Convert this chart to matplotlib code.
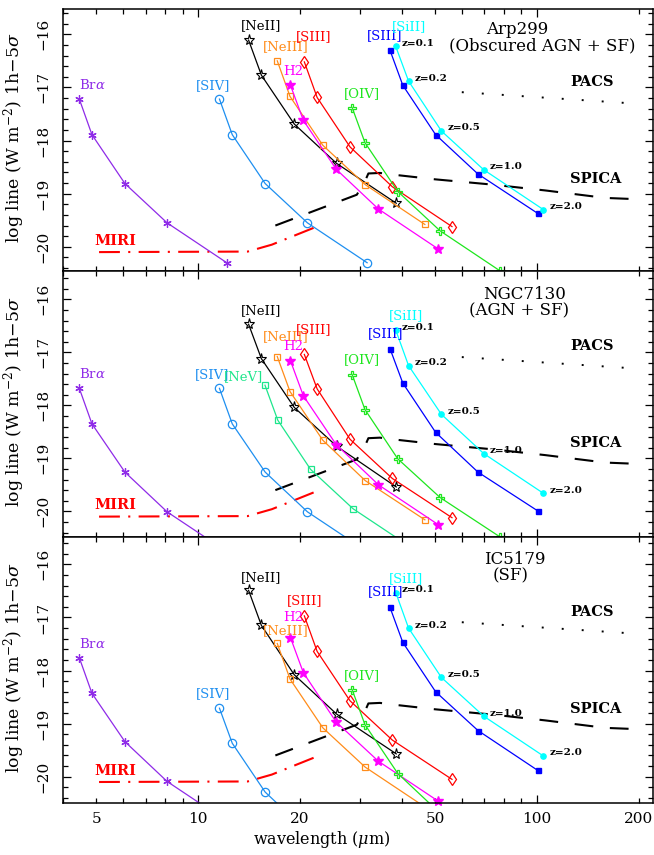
import numpy as np
import matplotlib.pyplot as plt
from matplotlib.ticker import FixedLocator, FuncFormatter, MultipleLocator

plt.rcParams['font.family'] = 'DejaVu Serif'
plt.rcParams['mathtext.fontset'] = 'dejavuserif'

# observed wavelength (micron) of each line at z = 0.1, 0.2, 0.5, 1.0, 2.0
z_labels = ['z=0.1', 'z=0.2', 'z=0.5', 'z=1.0', 'z=2.0']
wl_bra = [4.46, 4.86, 6.08, 8.10, 12.15]
wl_siv = [11.56, 12.61, 15.77, 21.02, 31.53]
wl_neii = [14.09, 15.37, 19.22, 25.62, 38.43]
wl_nev = [15.75, 17.18, 21.48, 28.64, 42.96]
wl_neiii = [17.12, 18.67, 23.34, 31.12, 46.68]
wl_h2 = [18.73, 20.44, 25.55, 34.06, 51.09]
wl_siii18 = [20.58, 22.45, 28.07, 37.42, 56.13]
wl_oiv = [28.48, 31.07, 38.84, 51.78, 77.67]
wl_siii33 = [36.83, 40.18, 50.22, 66.96, 100.44]
wl_siil = [38.30, 41.78, 52.23, 69.64, 104.46]

# log line flux (W m^-2) per galaxy
arp_bra = [-17.22, -17.89, -18.81, -19.55, -20.30]
arp_siv = [-17.22, -17.89, -18.81, -19.55, -20.30]
arp_neii = [-16.11, -16.77, -17.69, -18.43, -19.18]
arp_neiii = [-16.50, -17.17, -18.09, -18.83, -19.58]
arp_h2 = [-16.96, -17.62, -18.54, -19.29, -20.04]
arp_siii18 = [-16.52, -17.19, -18.12, -18.87, -19.62]
arp_oiv = [-17.38, -18.04, -18.96, -19.70, -20.45]
arp_siii33 = [-16.30, -16.96, -17.89, -18.63, -19.37]
arp_siil = [-16.23, -16.88, -17.82, -18.55, -19.30]

ngc_bra = [-17.68, -18.35, -19.26, -20.01, -20.76]
ngc_siv = [-17.68, -18.35, -19.26, -20.01, -20.76]
ngc_nev = [-17.62, -18.28, -19.21, -19.95, -20.70]
ngc_neii = [-16.47, -17.12, -18.04, -18.77, -19.54]
ngc_neiii = [-17.08, -17.74, -18.66, -19.42, -20.16]
ngc_h2 = [-17.16, -17.82, -18.74, -19.50, -20.25]
ngc_siii18 = [-17.04, -17.69, -18.64, -19.38, -20.12]
ngc_oiv = [-17.42, -18.08, -19.01, -19.74, -20.48]
ngc_siii33 = [-16.93, -17.58, -18.51, -19.26, -19.99]
ngc_siil = [-16.58, -17.25, -18.17, -18.91, -19.66]

ic_bra = [-17.76, -18.43, -19.34, -20.09, -20.84]
ic_siv = [-18.71, -19.37, -20.29, -21.04, -21.79]
ic_neii = [-16.49, -17.15, -18.08, -18.82, -19.57]
ic_neiii = [-17.49, -18.16, -19.08, -19.82, -20.57]
ic_h2 = [-17.38, -18.04, -18.97, -19.71, -20.46]
ic_siii18 = [-16.97, -17.64, -18.57, -19.31, -20.05]
ic_oiv = [-18.36, -19.02, -19.94, -20.69, -21.44]
ic_siii33 = [-16.81, -17.47, -18.40, -19.13, -19.88]
ic_siil = [-16.53, -17.20, -18.13, -18.86, -19.61]

# instrument 5-sigma 1h sensitivities
pacs_wl = [60.0, 190.0]
pacs_flux = [-17.09, -17.30]
spica_wl = [16.9, 29.4, 31.3, 31.8, 34.4, 38.6, 50.0, 74.0, 106.0, 159.0, 208.0]
spica_flux = [-19.60, -19.02, -18.72, -18.62, -18.61, -18.65, -18.73, -18.83, -18.94, -19.08, -19.11]
miri_wl = [5.1, 14.0, 16.5, 22.6]
miri_flux = [-20.10, -20.09, -19.96, -19.61]

wavelengths = {'bra': wl_bra, 'siv': wl_siv, 'neii': wl_neii, 'nev': wl_nev,
               'neiii': wl_neiii, 'h2': wl_h2, 'siii18': wl_siii18, 'oiv': wl_oiv,
               'siii33': wl_siii33, 'siil': wl_siil}

# name, label, colour, marker kwargs
styles = [
    ('bra', r'Br$\alpha$', '#8f2be8', dict(marker=(6, 2, 0), ms=6, mew=0.9)),
    ('siv', '[SIV]', '#1e8ff0', dict(marker='o', ms=6, mfc='none', mew=0.9)),
    ('nev', '[NeV]', '#1ee68c', dict(marker='s', ms=4.8, mfc='none', mew=0.9)),
    ('neii', '[NeII]', 'black', dict(marker='*', ms=8, mfc='none', mew=0.8)),
    ('neiii', '[NeIII]', '#ff8c1a', dict(marker='s', ms=4.8, mfc='none', mew=0.9)),
    ('h2', 'H2', '#ff00ff', dict(marker='*', ms=7)),
    ('siii18', '[SIII]', '#ff0000', dict(marker='d', ms=6.5, mfc='none', mew=0.9)),
    ('oiv', '[OIV]', '#1ee61e', dict(marker='P', ms=6, mfc='none', mew=0.9)),
    ('siii33', '[SIII]', '#0000ff', dict(marker='s', ms=3.6)),
    ('siil', '[SiII]', '#00ffff', dict(marker='o', ms=3.8)),
]

panels = [
    dict(title=('Arp299', '(Obscured AGN + SF)'), title_x=(87.3, 103.5),
         flux={'bra': arp_bra, 'siv': arp_siv, 'neii': arp_neii, 'neiii': arp_neiii,
               'h2': arp_h2, 'siii18': arp_siii18, 'oiv': arp_oiv,
               'siii33': arp_siii33, 'siil': arp_siil},
         ylim=(-20.45, -15.53), rect=(270.7, 9.3),
         offs={'bra': (13, 14), 'siv': (-6, 13), 'neii': (12, 14), 'neiii': (8, 14),
               'h2': (3, 14), 'siii18': (9, 25), 'oiv': (10, 14),
               'siii33': (-5, 15), 'siil': (13, 20)}),
    dict(title=('NGC7130', '(AGN + SF)'), title_x=(91.7, 88.7),
         flux={'bra': ngc_bra, 'siv': ngc_siv, 'nev': ngc_nev, 'neii': ngc_neii,
               'neiii': ngc_neiii, 'h2': ngc_h2, 'siii18': ngc_siii18,
               'oiv': ngc_oiv, 'siii33': ngc_siii33, 'siil': ngc_siil},
         ylim=(-20.49, -15.46), rect=(537.3, 270.7),
         offs={'bra': (13, 14), 'siv': (-7, 14), 'nev': (-21, 9), 'neii': (12, 14),
               'neiii': (8, 20), 'h2': (3, 14), 'siii18': (9, 25), 'oiv': (10, 15),
               'siii33': (-4, 15), 'siil': (10, 14)}),
    dict(title=('IC5179', '(SF)'), title_x=(86.3, 83.4),
         flux={'bra': ic_bra, 'siv': ic_siv, 'neii': ic_neii, 'neiii': ic_neiii,
               'h2': ic_h2, 'siii18': ic_siii18, 'oiv': ic_oiv,
               'siii33': ic_siii33, 'siil': ic_siil},
         ylim=(-20.49, -15.49), rect=(802.7, 537.3),
         offs={'bra': (13, 14), 'siv': (-6, 15), 'neii': (12, 13), 'neiii': (8, 13),
               'h2': (3, 20), 'siii18': (0, 15), 'oiv': (10, 14),
               'siii33': (-4, 16), 'siil': (10, 14)}),
]

W, H = 654, 855
fig = plt.figure(figsize=(W / 100, H / 100), dpi=100)
x0, x1 = 63.3, 653.0

for i, p in enumerate(panels):
    bot, top = p['rect']
    ax = fig.add_axes([x0 / W, (H - bot) / H, (x1 - x0) / W, (bot - top) / H])
    ax.set_xscale('log')
    ax.set_xlim(4.0, 220.0)
    ax.set_ylim(*p['ylim'])
    ybot = p['ylim'][0]

    # sensitivity curves
    ax.plot(pacs_wl, pacs_flux, color='black', lw=1.4, ls=(0, (1, 9.3)))
    ax.plot(spica_wl, spica_flux, color='black', lw=1.5, ls=(0, (9, 8)))
    ax.plot(miri_wl, miri_flux, color='red', lw=1.5, ls=(0, (10, 4, 1, 4)))
    ax.text(145, -16.89, 'PACS', fontsize=10.5, fontweight='bold', ha='center', va='center')
    ax.text(149, -18.72, 'SPICA', fontsize=10.5, fontweight='bold', ha='center', va='center')
    ax.text(5.69, -19.89, 'MIRI', fontsize=10.5, fontweight='bold', color='red',
            ha='center', va='center')

    for key, label, color, mk in styles:
        if key not in p['flux']:
            continue
        wl = np.asarray(wavelengths[key])
        fl = np.asarray(p['flux'][key])
        ax.plot(wl, fl, '-', color=color, lw=0.9)
        keep = fl >= ybot - 0.05
        ax.plot(wl[keep], fl[keep], ls='none', color=color, clip_on=False, **mk)
        ax.annotate(label, (wl[0], fl[0]), xytext=p['offs'][key],
                    textcoords='offset pixels', color=color, fontsize=9.5,
                    ha='center', va='center')
        if key == 'siil':
            for xz, yz, zl in zip(wl, fl, z_labels):
                ax.annotate(zl, (xz, yz), xytext=(6, 3), textcoords='offset pixels',
                            fontsize=7.5, fontweight='bold', ha='left', va='center')

    ax.text(p['title_x'][0], -15.91, p['title'][0], fontsize=12, ha='center', va='center')
    ax.text(p['title_x'][1], -16.21, p['title'][1], fontsize=12, ha='center', va='center')

    # axes styling
    ax.xaxis.set_major_locator(FixedLocator([10, 100]))
    ax.xaxis.set_minor_locator(FixedLocator([4, 5, 6, 7, 8, 9, 20, 30, 40, 50, 60, 70, 80, 90, 200]))
    ax.xaxis.set_major_formatter(FuncFormatter(lambda v, pos: f'{v:g}'))
    ax.xaxis.set_minor_formatter(FuncFormatter(
        lambda v, pos: f'{v:g}' if round(v) in (5, 20, 50, 200) else ''))
    ax.yaxis.set_major_locator(MultipleLocator(1))
    ax.yaxis.set_minor_locator(MultipleLocator(0.2))
    ax.tick_params(which='both', direction='in', top=True, right=True, width=0.9,
                   labelsize=11)
    ax.tick_params(which='major', length=6)
    ax.tick_params(which='minor', length=3.5)
    ax.tick_params(axis='y', labelrotation=90, pad=9)
    ax.tick_params(axis='x', which='both', pad=7)
    for lab in ax.get_yticklabels():
        lab.set_va('center')
    if i < 2:
        ax.tick_params(axis='x', which='both', labelbottom=False)
    for s in ax.spines.values():
        s.set_linewidth(1.1)

    ax.set_ylabel(r'log line (W m$^{-2}$) 1h$-$5$\sigma$', fontsize=12.5)
    ax.yaxis.set_label_coords(-0.062, 0.51)
    if i == 2:
        ax.set_xlabel(r'wavelength ($\mu$m)', fontsize=11.5)
        ax.xaxis.set_label_coords(0.438, -0.1)

fig.savefig('out.png', dpi=100)
